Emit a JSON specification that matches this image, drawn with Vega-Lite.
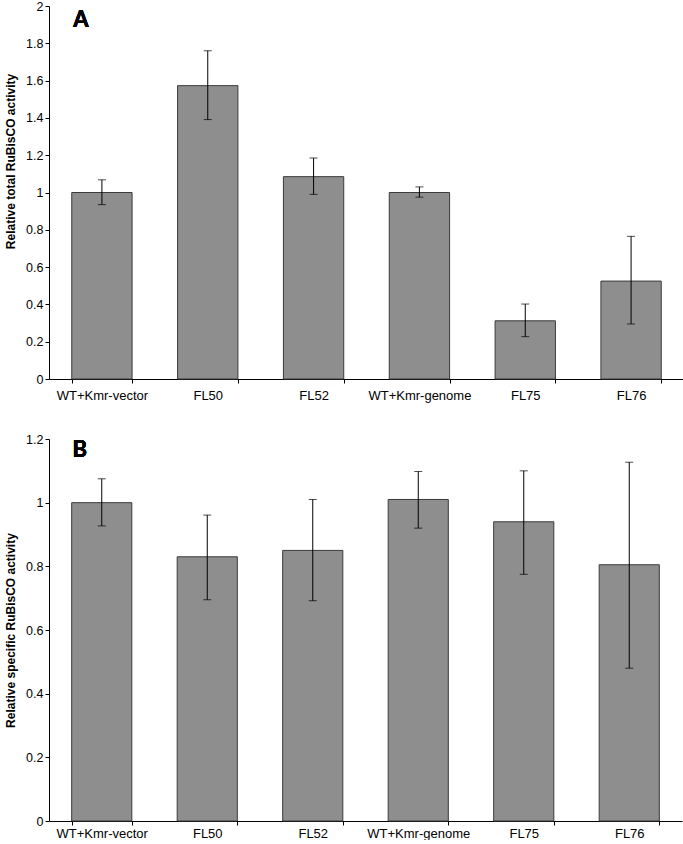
{
  "$schema": "https://vega.github.io/schema/vega-lite/v6.json",
  "background": "white",
  "padding": {"left": 4, "top": 0, "right": 1, "bottom": 0},
  "spacing": 31,
  "config": {
    "font": "Liberation Sans",
    "view": {"stroke": null},
    "axis": {
      "grid": false,
      "domainColor": "#000000",
      "tickColor": "#000000",
      "labelColor": "#000000",
      "labelFont": "Liberation Sans",
      "labelFontSize": 12.5,
      "titleFont": "Liberation Sans",
      "titleFontWeight": "bold",
      "titleFontSize": 12,
      "titleColor": "#000000",
      "tickSize": 4
    }
  },
  "vconcat": [
    {
      "width": 635,
      "height": 373,
      "data": {"values": [
        {"strain": "WT+Kmr-vector", "mean": 1.0, "lo": 0.935, "hi": 1.068},
        {"strain": "FL50", "mean": 1.573, "lo": 1.391, "hi": 1.76},
        {"strain": "FL52", "mean": 1.085, "lo": 0.99, "hi": 1.185},
        {"strain": "WT+Kmr-genome", "mean": 1.0, "lo": 0.975, "hi": 1.03},
        {"strain": "FL75", "mean": 0.312, "lo": 0.227, "hi": 0.402},
        {"strain": "FL76", "mean": 0.525, "lo": 0.295, "hi": 0.765}
      ]},
      "encoding": {
        "x": {"field": "strain", "type": "nominal", "sort": null,
              "scale": {"paddingInner": 0.43, "paddingOuter": 0.215},
              "axis": {"title": null, "labelAngle": 0, "tickBand": "extent", "labelPadding": 6, "labelFontSize": 13}}
      },
      "layer": [
        {
          "mark": {"type": "bar", "fill": "#8e8e8e", "stroke": "#3a3a3a", "strokeWidth": 1},
          "encoding": {
            "y": {"field": "mean", "type": "quantitative",
                  "scale": {"domain": [0, 2], "nice": false},
                  "axis": {"title": "Relative total RuBisCO activity", "values": [0, 0.2, 0.4, 0.6, 0.8, 1, 1.2, 1.4, 1.6, 1.8, 2], "format": "~g", "titleY": 155, "titlePadding": 8}}
          }
        },
        {
          "mark": {"type": "errorbar", "ticks": {"size": 8, "color": "#000000", "strokeWidth": 1}, "rule": {"color": "#000000", "strokeWidth": 1}},
          "encoding": {
            "y": {"field": "lo", "type": "quantitative",
                  "scale": {"domain": [0, 2], "nice": false},
                  "axis": {"title": "Relative total RuBisCO activity", "values": [0, 0.2, 0.4, 0.6, 0.8, 1, 1.2, 1.4, 1.6, 1.8, 2], "format": "~g", "titleY": 155, "titlePadding": 8}},
            "y2": {"field": "hi"}
          }
        },
        {
          "mark": {"type": "text", "text": "A", "font": "Lato", "fontWeight": "bold", "fontSize": 22, "dx": -21, "align": "center", "baseline": "middle", "color": "#000000"},
          "encoding": {
            "x": {"datum": "WT+Kmr-vector"},
            "y": {"datum": 1.925, "type": "quantitative",
                  "scale": {"domain": [0, 2], "nice": false},
                  "axis": {"title": "Relative total RuBisCO activity", "values": [0, 0.2, 0.4, 0.6, 0.8, 1, 1.2, 1.4, 1.6, 1.8, 2], "format": "~g", "titleY": 155, "titlePadding": 8}}
          }
        }
      ]
    },
    {
      "width": 633,
      "height": 382,
      "data": {"values": [
        {"strain": "WT+Kmr-vector", "mean": 1.0, "lo": 0.927, "hi": 1.075},
        {"strain": "FL50", "mean": 0.83, "lo": 0.695, "hi": 0.961},
        {"strain": "FL52", "mean": 0.85, "lo": 0.692, "hi": 1.01},
        {"strain": "WT+Kmr-genome", "mean": 1.01, "lo": 0.92, "hi": 1.098},
        {"strain": "FL75", "mean": 0.94, "lo": 0.775, "hi": 1.1},
        {"strain": "FL76", "mean": 0.805, "lo": 0.48, "hi": 1.127}
      ]},
      "encoding": {
        "x": {"field": "strain", "type": "nominal", "sort": null,
              "scale": {"paddingInner": 0.43, "paddingOuter": 0.215},
              "axis": {"title": null, "labelAngle": 0, "tickBand": "extent", "labelPadding": 2, "labelFontSize": 13}}
      },
      "layer": [
        {
          "mark": {"type": "bar", "fill": "#8e8e8e", "stroke": "#3a3a3a", "strokeWidth": 1},
          "encoding": {
            "y": {"field": "mean", "type": "quantitative",
                  "scale": {"domain": [0, 1.2], "nice": false},
                  "axis": {"title": "Relative specific RuBisCO activity", "values": [0, 0.2, 0.4, 0.6, 0.8, 1, 1.2], "format": "~g", "titlePadding": 8}}
          }
        },
        {
          "mark": {"type": "errorbar", "ticks": {"size": 8, "color": "#000000", "strokeWidth": 1}, "rule": {"color": "#000000", "strokeWidth": 1}},
          "encoding": {
            "y": {"field": "lo", "type": "quantitative",
                  "scale": {"domain": [0, 1.2], "nice": false},
                  "axis": {"title": "Relative specific RuBisCO activity", "values": [0, 0.2, 0.4, 0.6, 0.8, 1, 1.2], "format": "~g", "titlePadding": 8}},
            "y2": {"field": "hi"}
          }
        },
        {
          "mark": {"type": "text", "text": "B", "font": "Lato", "fontWeight": "bold", "fontSize": 22, "dx": -22, "align": "center", "baseline": "middle", "color": "#000000"},
          "encoding": {
            "x": {"datum": "WT+Kmr-vector"},
            "y": {"datum": 1.165, "type": "quantitative",
                  "scale": {"domain": [0, 1.2], "nice": false},
                  "axis": {"title": "Relative specific RuBisCO activity", "values": [0, 0.2, 0.4, 0.6, 0.8, 1, 1.2], "format": "~g", "titlePadding": 8}}
          }
        }
      ]
    }
  ]
}
